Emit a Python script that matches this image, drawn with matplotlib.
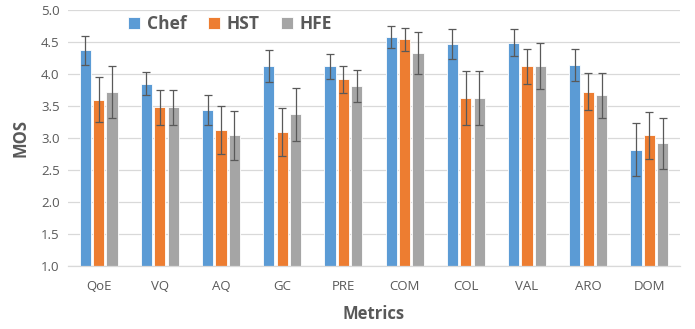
import matplotlib
matplotlib.use("Agg")
import matplotlib.pyplot as plt
import numpy as np

categories = ["QoE", "VQ", "AQ", "GC", "PRE", "COM", "COL", "VAL", "ARO", "DOM"]
chef = [4.37, 3.85, 3.44, 4.12, 4.12, 4.58, 4.47, 4.49, 4.14, 2.82]
hst = [3.60, 3.48, 3.12, 3.09, 3.92, 4.54, 3.62, 4.12, 3.72, 3.04]
hfe = [3.72, 3.48, 3.04, 3.37, 3.81, 4.33, 3.62, 4.12, 3.67, 2.92]
chef_err = [0.23, 0.18, 0.23, 0.25, 0.20, 0.17, 0.23, 0.21, 0.25, 0.41]
hst_err = [0.35, 0.27, 0.375, 0.375, 0.21, 0.18, 0.42, 0.27, 0.29, 0.37]
hfe_err = [0.40, 0.27, 0.38, 0.41, 0.25, 0.33, 0.42, 0.36, 0.35, 0.40]
series_names = ["Chef", "HST", "HFE"]
colors = ["#5B9BD5", "#ED7D31", "#A5A5A5"]

plt.rcParams['font.family'] = ['Open Sans', 'DejaVu Sans']

fig = plt.figure(figsize=(6.95, 3.29), dpi=100)
ax = fig.add_axes([68/695, 1 - 266/329, 612/695, 256/329])

x = np.arange(len(categories))
offset = 0.219
width = 0.18
ecol = "#595959"
for i, (vals, errs) in enumerate(zip([chef, hst, hfe], [chef_err, hst_err, hfe_err])):
    ax.bar(x + (i - 1) * offset, vals, width=width, bottom=0, color=colors[i],
           edgecolor="#FFFFFF", linewidth=0.6, label=series_names[i], zorder=2,
           yerr=errs, error_kw=dict(ecolor=ecol, elinewidth=0.9, capsize=3, capthick=0.9, zorder=3))

ax.set_ylim(1.0, 5.0)
ax.set_xlim(-0.5, len(categories) - 0.5)
ax.set_yticks(np.arange(1.0, 5.01, 0.5))
ax.set_yticklabels([f"{v:.1f}" for v in np.arange(1.0, 5.01, 0.5)])
ax.set_xticks(x)
ax.set_xticklabels(categories)
ax.yaxis.grid(True, color="#D9D9D9", linewidth=0.9, zorder=0)
ax.set_axisbelow(True)
for s in ["top", "right", "left"]:
    ax.spines[s].set_visible(False)
ax.spines["bottom"].set_color("#D9D9D9")
ax.spines["bottom"].set_linewidth(0.9)
ax.tick_params(axis="both", length=0, colors="#595959", labelsize=9.5)
ax.tick_params(axis="x", pad=10)
ax.tick_params(axis="y", pad=6)

ax.set_ylabel("MOS", fontsize=12, fontweight="bold", color="#595959", labelpad=8)
ax.set_xlabel("Metrics", fontsize=12, fontweight="bold", color="#595959", labelpad=9)

leg = ax.legend(loc="center", ncol=3, frameon=False,
                prop=dict(size=12.5, weight="bold"), handlelength=0.7, handleheight=0.7,
                columnspacing=1.2, handletextpad=0.4, labelcolor="#595959")
leg.set_bbox_to_anchor((230/695, 1 - 24/329), transform=fig.transFigure)

fig.savefig("out.png", dpi=100)
